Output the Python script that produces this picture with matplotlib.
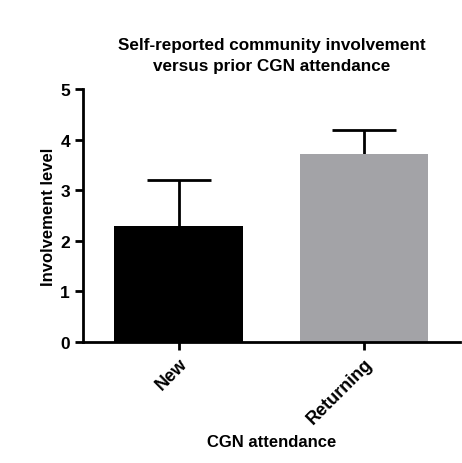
import matplotlib
matplotlib.use("Agg")
import matplotlib.pyplot as plt

categories = ["New", "Returning"]
means = [2.29, 3.71]
err_up = [0.92, 0.47]
colors = ["#000000", "#a3a3a7"]

plt.rcParams['font.family'] = ['Liberation Sans', 'DejaVu Sans']
plt.rcParams['font.weight'] = 'bold'

fig = plt.figure(figsize=(4.62, 4.64), dpi=100)
ax = fig.add_axes([0.18, 0.261, 0.815, 0.545])

x = range(len(categories))
ax.bar(x, means, width=0.69, color=colors, zorder=2)
for xi, m, e in zip(x, means, err_up):
    eb = ax.errorbar(xi, m, yerr=[[0], [e]], color="black", capsize=22.7,
                     elinewidth=2, capthick=2, zorder=1)
    # only the upper cap is wanted
    eb[1][0].set_visible(False)

ax.set_xlim(-0.513, 1.513)
ax.set_ylim(0, 5)
ax.set_yticks([0, 1, 2, 3, 4, 5])
ax.set_xticks(list(x))
ax.set_xticklabels(categories, rotation=45, ha="right", rotation_mode="anchor")

for s in ["top", "right"]:
    ax.spines[s].set_visible(False)
for s in ["left", "bottom"]:
    ax.spines[s].set_linewidth(2)
ax.tick_params(width=2, length=6, labelsize=12.5)
ax.tick_params(axis="x", labelsize=13, pad=3)

ax.set_ylabel("Involvement level", fontsize=12, fontweight="bold", labelpad=3)
ax.set_xlabel("CGN attendance", fontsize=12, fontweight="bold", labelpad=5)
ax.set_title("Self-reported community involvement\nversus prior CGN attendance",
             fontsize=12.3, fontweight="bold", pad=14, linespacing=1.45)

fig.savefig("out.png", dpi=100)
